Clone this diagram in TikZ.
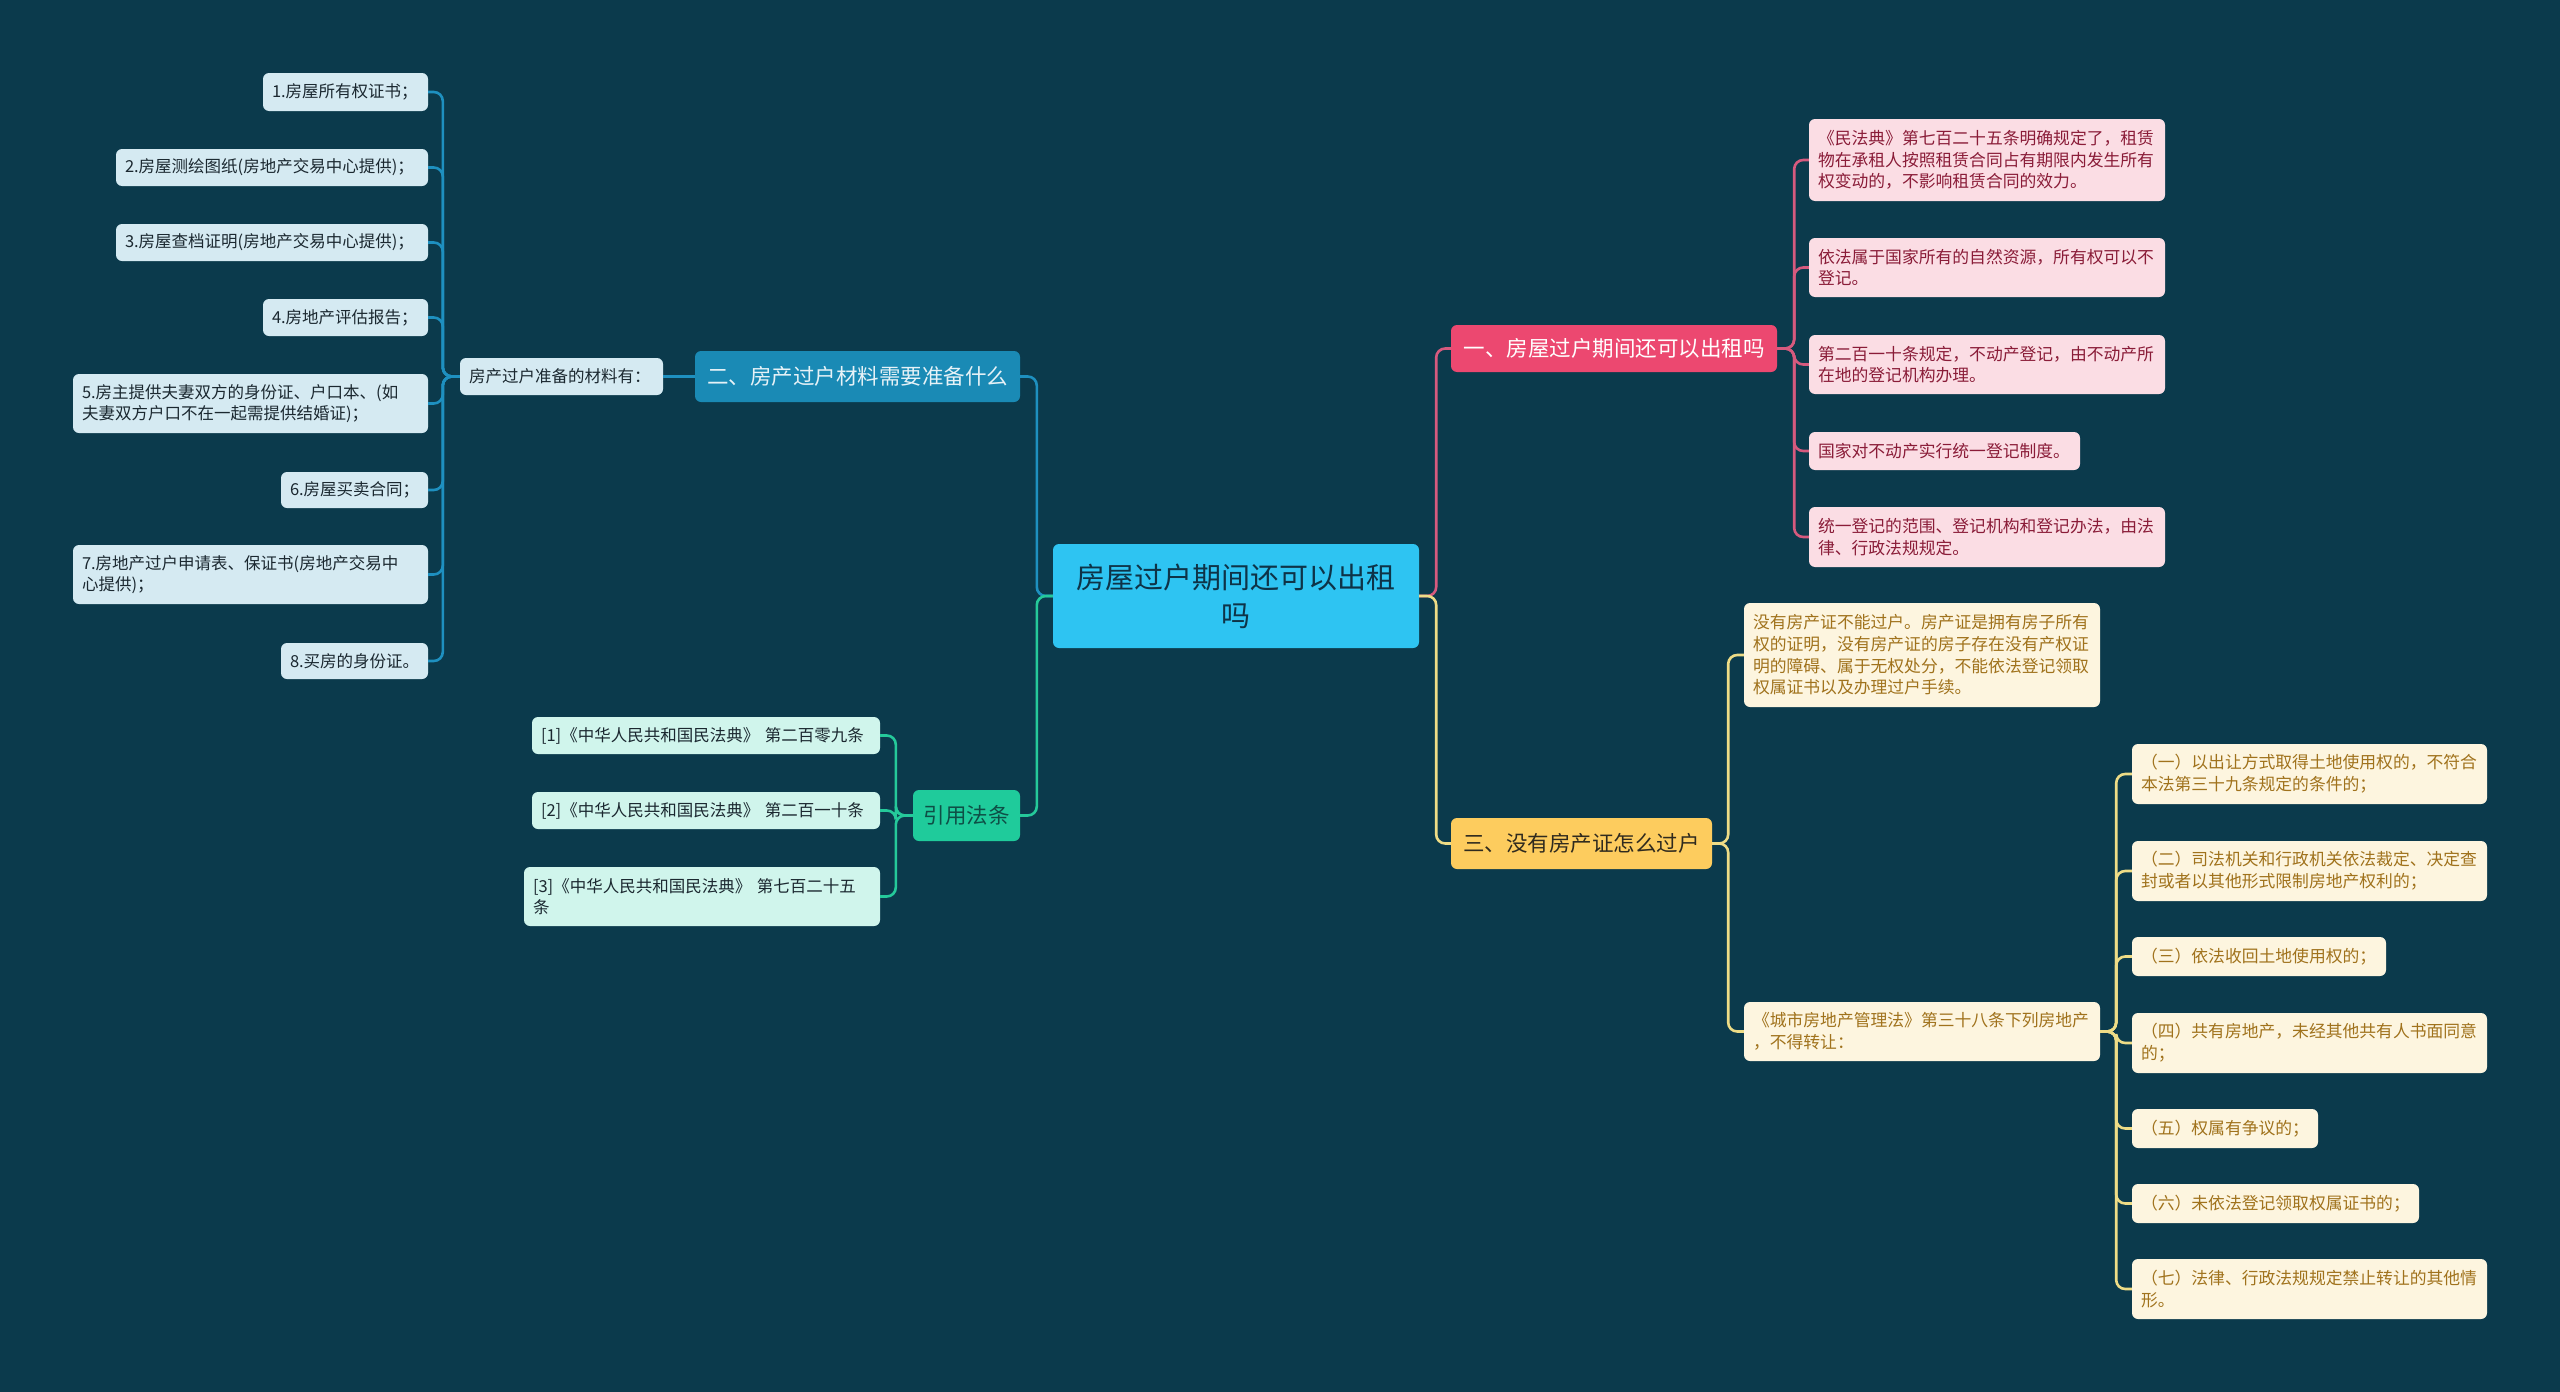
\documentclass[tikz,border=0pt]{standalone}
\usepackage{fontspec}
\setmainfont{Noto Sans CJK SC}
\definecolor{bg}{HTML}{0B3A4C}
\definecolor{rootfill}{HTML}{2EC4F2}
\definecolor{roottext}{HTML}{0E3347}
\definecolor{bfill}{HTML}{1A8AB5}
\definecolor{btext}{HTML}{E6F2F7}
\definecolor{bleaf}{HTML}{D5EAF2}
\definecolor{bline}{HTML}{1E90C0}
\definecolor{darktext}{HTML}{1B2830}
\definecolor{gfill}{HTML}{1FCB9B}
\definecolor{gtext}{HTML}{0E4F46}
\definecolor{gleaf}{HTML}{D0F5EC}
\definecolor{gline}{HTML}{25C99A}
\definecolor{pfill}{HTML}{EC4870}
\definecolor{pleaf}{HTML}{FBDDE4}
\definecolor{ptext}{HTML}{8A1C38}
\definecolor{pline}{HTML}{D65A7E}
\definecolor{yfill}{HTML}{FDCC5E}
\definecolor{ytext}{HTML}{2F2A1E}
\definecolor{yleaf}{HTML}{FDF5DF}
\definecolor{yltext}{HTML}{A0721C}
\definecolor{yline}{HTML}{EEDC86}
\newcommand\mmbox[7]{%
  \pgfmathsetmacro\mmw{#5-#3}\pgfmathsetmacro\mmh{#6-#4}%
  \pgfmathsetmacro\mmtw{#5-#3-18}%
  \node[#2, minimum width=\mmw pt, minimum height=\mmh pt, text width=\mmtw pt] (#1) at ({(#3+#5)/2},{(#4+#6)/2}) {#7};}
\tikzset{
  box/.style={rounded corners=6pt, inner xsep=9pt, inner ysep=3pt, align=left},
  leafb/.style={box, fill=bleaf, text=darktext, font=\fontsize{16.5}{21.5}\selectfont},
  leafg/.style={box, fill=gleaf, text=darktext, font=\fontsize{16.5}{21.5}\selectfont},
  leafp/.style={box, fill=pleaf, text=ptext, font=\fontsize{16.8}{21.7}\selectfont},
  leafy/.style={box, fill=yleaf, text=yltext, font=\fontsize{16.8}{21.7}\selectfont},
  mainb/.style={box, align=center, fill=bfill, text=btext, font=\fontsize{21.5}{26}\selectfont},
  maing/.style={box, align=center, fill=gfill, text=gtext, font=\fontsize{21.5}{26}\selectfont},
  mainp/.style={box, align=center, fill=pfill, text=white, font=\fontsize{21.5}{26}\selectfont},
  mainy/.style={box, align=center, fill=yfill, text=ytext, font=\fontsize{21.5}{26}\selectfont},
  rootbox/.style={box, align=center, fill=rootfill, text=roottext, font=\fontsize{29}{38}\selectfont},
  conn/.style={line width=2.6pt, rounded corners=9pt},
  cb/.style={conn, draw=bline},
  cg/.style={conn, draw=gline},
  cp/.style={conn, draw=pline},
  cy/.style={conn, draw=yline}
}
\begin{document}
\begin{tikzpicture}[x=1pt,y=-1pt]
\fill[bg] (0,0) rectangle (2560,1392);
\useasboundingbox (0,0) rectangle (2560,1392);

% root
\mmbox{root}{rootbox}{1053}{544}{1419}{648}{房屋过户期间还可以出租\\吗}

% left: blue branch
\mmbox{blue}{mainb}{695}{351}{1020}{402}{二、房产过户材料需要准备什么}
\mmbox{mat}{leafb}{460}{358}{663}{395}{房产过户准备的材料有：}
\mmbox{L1}{leafb}{263}{73}{428}{111}{1.房屋所有权证书；}
\mmbox{L2}{leafb}{116}{149}{428}{186}{2.房屋测绘图纸(房地产交易中心提供)；}
\mmbox{L3}{leafb}{116}{224}{428}{261}{3.房屋查档证明(房地产交易中心提供)；}
\mmbox{L4}{leafb}{263}{299}{428}{336}{4.房地产评估报告；}
\mmbox{L5}{leafb}{73}{374}{428}{433}{5.房主提供夫妻双方的身份证、户口本、(如\\夫妻双方户口不在一起需提供结婚证)；}
\mmbox{L6}{leafb}{281}{472}{428}{508}{6.房屋买卖合同；}
\mmbox{L7}{leafb}{73}{545}{428}{604}{7.房地产过户申请表、保证书(房地产交易中\\心提供)；}
\mmbox{L8}{leafb}{281}{643}{428}{679}{8.买房的身份证。}

% left: green branch
\mmbox{green}{maing}{913}{790}{1020}{841}{引用法条}
\mmbox{G1}{leafg}{532}{717}{880}{754}{[1]《中华人民共和国民法典》 第二百零九条}
\mmbox{G2}{leafg}{532}{792}{880}{829}{[2]《中华人民共和国民法典》 第二百一十条}
\mmbox{G3}{leafg}{524}{867}{880}{926}{[3]《中华人民共和国民法典》 第七百二十五\\条}

% right: pink branch
\mmbox{pink}{mainp}{1451}{325}{1777}{372}{一、房屋过户期间还可以出租吗}
\mmbox{P1}{leafp}{1809}{119}{2165}{201}{《民法典》第七百二十五条明确规定了，租赁\\物在承租人按照租赁合同占有期限内发生所有\\权变动的，不影响租赁合同的效力。}
\mmbox{P2}{leafp}{1809}{238}{2165}{297}{依法属于国家所有的自然资源，所有权可以不\\登记。}
\mmbox{P3}{leafp}{1809}{335}{2165}{394}{第二百一十条规定，不动产登记，由不动产所\\在地的登记机构办理。}
\mmbox{P4}{leafp}{1809}{432}{2080}{470}{国家对不动产实行统一登记制度。}
\mmbox{P5}{leafp}{1809}{507}{2165}{567}{统一登记的范围、登记机构和登记办法，由法\\律、行政法规规定。}

% right: yellow branch
\mmbox{yellow}{mainy}{1451}{818}{1712}{869}{三、没有房产证怎么过户}
\mmbox{Y1}{leafy}{1744}{603}{2100}{707}{没有房产证不能过户。房产证是拥有房子所有\\权的证明，没有房产证的房子存在没有产权证\\明的障碍、属于无权处分，不能依法登记领取\\权属证书以及办理过户手续。}
\mmbox{Y2}{leafy}{1744}{1002}{2100}{1061}{《城市房地产管理法》第三十八条下列房地产\\，不得转让：}
\mmbox{R1}{leafy}{2132}{744}{2487}{804}{（一）以出让方式取得土地使用权的，不符合\\本法第三十九条规定的条件的；}
\mmbox{R2}{leafy}{2132}{841}{2487}{901}{（二）司法机关和行政机关依法裁定、决定查\\封或者以其他形式限制房地产权利的；}
\mmbox{R3}{leafy}{2132}{937}{2386}{976}{（三）依法收回土地使用权的；}
\mmbox{R4}{leafy}{2132}{1013}{2487}{1073}{（四）共有房地产，未经其他共有人书面同意\\的；}
\mmbox{R5}{leafy}{2132}{1109}{2318}{1148}{（五）权属有争议的；}
\mmbox{R6}{leafy}{2132}{1184}{2419}{1223}{（六）未依法登记领取权属证书的；}
\mmbox{R7}{leafy}{2132}{1259}{2487}{1319}{（七）法律、行政法规规定禁止转让的其他情\\形。}

% connectors
\draw[cb] (root.west) -- ++(-16,0) |- (blue.east);
\draw[cg] (root.west) -- ++(-16,0) |- (green.east);
\draw[cb] (blue.west) -- (mat.east);
\foreach \n in {L1,L2,L3,L4,L5,L6,L7,L8}
  \draw[cb] (mat.west) -- ++(-17,0) |- (\n.east);
\foreach \n in {G1,G2,G3}
  \draw[cg] (green.west) -- ++(-17,0) |- (\n.east);
\draw[cp] (root.east) -- ++(17,0) |- (pink.west);
\draw[cy] (root.east) -- ++(17,0) |- (yellow.west);
\foreach \n in {P1,P2,P3,P4,P5}
  \draw[cp] (pink.east) -- ++(17,0) |- (\n.west);
\foreach \n in {Y1,Y2}
  \draw[cy] (yellow.east) -- ++(16,0) |- (\n.west);
\foreach \n in {R1,R2,R3,R4,R5,R6,R7}
  \draw[cy] (Y2.east) -- ++(16,0) |- (\n.west);
\end{tikzpicture}
\end{document}
